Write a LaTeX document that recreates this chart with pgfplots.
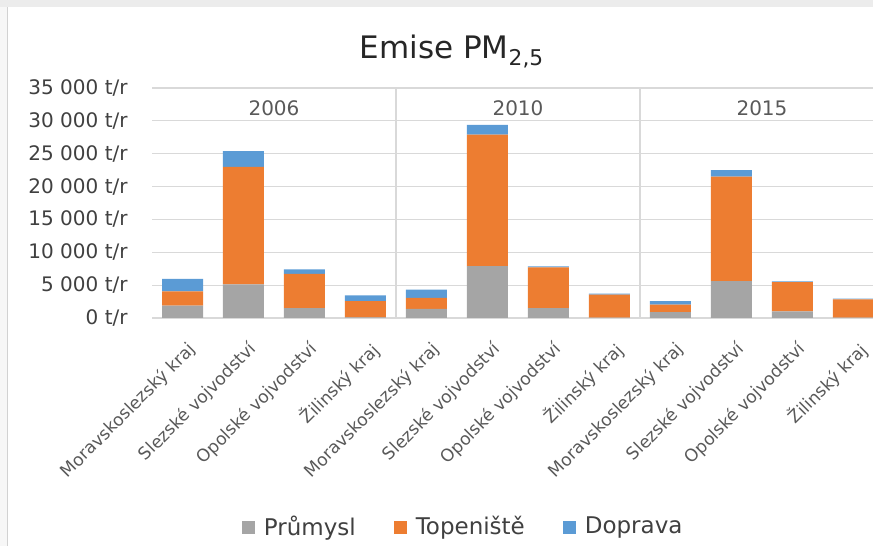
\documentclass[border=0pt]{standalone}
\usepackage{pgfplots}
\pgfplotsset{compat=1.18}
\usepackage{pgfplotstable}
\usepackage{fontspec}
\setmainfont{DejaVu Sans}
\definecolor{cGray}{HTML}{A5A5A5}
\definecolor{cOrange}{HTML}{ED7D31}
\definecolor{cBlue}{HTML}{5B9BD5}
\definecolor{cGrid}{HTML}{D9D9D9}
\definecolor{cText}{HTML}{404040}
\definecolor{cLab}{HTML}{595959}
\pgfplotstableread{
x prumysl topeniste doprava
0  1900  2150  1900
1  5100  17900 2400
2  1500  5200  700
3  100   2450  900
4  1400  1650  1250
5  7900  20000 1500
6  1500  6200  150
7  50    3500  150
8  900   1150  500
9  5600  15900 1000
10 1000  4470  100
11 50    2800  100
}\data
\begin{document}
\begin{tikzpicture}
\path[use as bounding box] (0,0) rectangle (436.5pt,273pt);
\fill[gray!15] (0,269.5pt) rectangle (436.5pt,273pt);
\fill[gray!6] (0,0) rectangle (3.5pt,269.5pt);
\draw[gray!35, line width=0.5pt] (3.5pt,0) -- (3.5pt,269.5pt);
\node[anchor=base, text=black!85, font=\fontsize{15.5}{18}\selectfont] at (226pt,243.5pt) {Emise PM\textsubscript{2,5}};
\begin{axis}[
  at={(76pt,114pt)}, anchor=south west,
  scale only axis, width=360.5pt, height=115pt,
  ybar stacked, bar width=20.5pt,
  xmin=-0.5, xmax=11.32, ymin=0, ymax=35000,
  scaled y ticks=false,
  clip=true,
  axis line style={draw=none},
  major tick length=0pt,
  ymajorgrids, grid style={cGrid, line width=0.6pt},
  xtick={0,...,11},
  xticklabels={Moravskoslezský kraj, Slezské vojvodství, Opolské vojvodství, Žilinský kraj,
               Moravskoslezský kraj, Slezské vojvodství, Opolské vojvodství, Žilinský kraj,
               Moravskoslezský kraj, Slezské vojvodství, Opolské vojvodství, Žilinský kraj},
  xticklabel style={xshift=2pt, yshift=-11pt, rotate=45, anchor=north east, inner sep=0pt,
                    font=\fontsize{8.6}{10}\selectfont, text=cLab},
  ytick={0,5000,...,35000},
  yticklabels={0 t/r, 5 000 t/r, 10 000 t/r, 15 000 t/r, 20 000 t/r, 25 000 t/r, 30 000 t/r, 35 000 t/r},
  yticklabel style={anchor=east, inner sep=0pt, xshift=-12pt, font=\fontsize{10}{12}\selectfont, text=cText},
  legend style={at={(0.433,-0.909)}, anchor=center, draw=none, fill=none, legend columns=-1,
                font=\fontsize{11.5}{13}\selectfont, text=cText,
                /tikz/every even column/.append style={column sep=17pt}},
  legend image code/.code={\fill[#1] (0pt,-3.25pt) rectangle (6.5pt,3.25pt); \path (9pt,0pt);},
]
\draw[cGrid, line width=0.6pt] (axis cs:3.5,0) -- (axis cs:3.5,35000);
\draw[cGrid, line width=0.6pt] (axis cs:7.5,0) -- (axis cs:7.5,35000);
\addplot[fill=cGray, draw=none] table[x=x, y=prumysl] {\data};
\addplot[fill=cOrange, draw=none] table[x=x, y=topeniste] {\data};
\addplot[fill=cBlue, draw=none] table[x=x, y=doprava] {\data};
\legend{Průmysl, Topeniště, Doprava}
\node[text=cLab, font=\fontsize{10}{12}\selectfont] at (axis cs:1.5,31900) {2006};
\node[text=cLab, font=\fontsize{10}{12}\selectfont] at (axis cs:5.5,31900) {2010};
\node[text=cLab, font=\fontsize{10}{12}\selectfont] at (axis cs:9.5,31900) {2015};
\end{axis}
\end{tikzpicture}
\end{document}
